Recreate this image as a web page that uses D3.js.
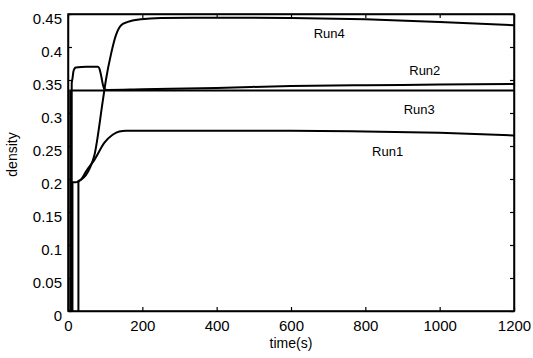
<!DOCTYPE html>
<html>
<head>
<meta charset="utf-8">
<script src="https://cdn.jsdelivr.net/npm/d3@7"></script>
<style>
  body { margin: 0; background: #fff; }
  text { font-family: Arial, "Liberation Sans", Helvetica, sans-serif; fill: #000; }
</style>
</head>
<body>
<div id="viz"></div>
<script>
// time (s) and density, one pair of arrays per run
const run1T = [12, 12, 20, 28, 35, 48, 71, 98, 120, 138, 156, 180, 300, 600, 800, 1000, 1200];
const run1D = [0, 0.195, 0.195, 0.196, 0.199, 0.211, 0.229, 0.255, 0.267, 0.272, 0.273, 0.273, 0.273, 0.273, 0.272, 0.270, 0.266];

const run2T = [10, 10, 12, 15, 21, 50, 80, 84, 87, 98, 105, 200, 400, 600, 800, 1000, 1200];
const run2D = [0, 0.345, 0.352, 0.364, 0.369, 0.370, 0.370, 0.368, 0.362, 0.336, 0.335, 0.336, 0.338, 0.341, 0.342, 0.343, 0.344];

const run3T = [6, 6, 300, 600, 900, 1200];
const run3D = [0, 0.334, 0.334, 0.334, 0.334, 0.334];

const run4T = [28, 28, 35, 48, 60, 71, 94, 102, 116, 129, 143, 161, 196, 250, 400, 600, 800, 1000, 1200];
const run4D = [0, 0.197, 0.199, 0.206, 0.218, 0.236, 0.320, 0.350, 0.390, 0.418, 0.433, 0.438, 0.442, 0.444, 0.4445, 0.444, 0.442, 0.438, 0.433];

const runNames = ['Run1', 'Run2', 'Run3', 'Run4'];
// label anchor points (time, density) for the run names
const labelT = [860, 960, 945, 703];
const labelD = [0.241, 0.364, 0.306, 0.420];

const xTicks = [0, 200, 400, 600, 800, 1000, 1200];
const yTicks = [0, 0.05, 0.1, 0.15, 0.2, 0.25, 0.3, 0.35, 0.4, 0.45];

const width = 533, height = 358;
const margin = {left: 68, right: 19, top: 14, bottom: 47};
const w = width - margin.left - margin.right;
const h = height - margin.top - margin.bottom;

const svg = d3.select('#viz').append('svg')
  .attr('width', width)
  .attr('height', height)
  .append('g')
  .attr('transform', `translate(${margin.left},${margin.top})`);

const x = d3.scaleLinear().domain([0, 1200]).range([0, w]);
const y = d3.scaleLinear().domain([0, 0.45]).range([h, 0]);

// matlab style inward ticks on all four sides
const tickLen = 4;
svg.append('g').attr('transform', `translate(0,${h})`)
  .call(d3.axisBottom(x).tickValues(xTicks).tickSizeInner(-tickLen).tickSizeOuter(0).tickPadding(9).tickFormat(d3.format('d')));
svg.append('g')
  .call(d3.axisTop(x).tickValues(xTicks).tickSizeInner(-tickLen).tickSizeOuter(0).tickFormat(''));
const yAxisG = svg.append('g')
  .call(d3.axisLeft(y).tickValues(yTicks).tickSizeInner(-tickLen).tickSizeOuter(0).tickPadding(6).tickFormat(d => d === 0 ? '0' : d3.format('.2~f')(d)));
svg.append('g').attr('transform', `translate(${w},0)`)
  .call(d3.axisRight(y).tickValues(yTicks).tickSizeInner(-tickLen).tickSizeOuter(0).tickFormat(''));

svg.selectAll('.domain').style('stroke', '#000').style('stroke-width', 1.5);
svg.selectAll('.tick line').style('stroke', '#000').style('stroke-width', 1.2);
svg.selectAll('.tick text').style('font-size', '15px').style('fill', '#000');
// y tick labels sit a touch below their ticks in the original
yAxisG.selectAll('.tick text').attr('dy', '0.7em').attr('y', -1);

// full box
svg.append('rect')
  .attr('width', w).attr('height', h)
  .style('fill', 'none').style('stroke', '#000').style('stroke-width', 1.5);

const line = d3.line()
  .x(d => x(d[0]))
  .y(d => y(d[1]))
  .curve(d3.curveMonotoneX);

const runs = [
  d3.zip(run1T, run1D),
  d3.zip(run2T, run2D),
  d3.zip(run3T, run3D),
  d3.zip(run4T, run4D),
];

svg.append('g')
  .selectAll('path')
  .data(runs)
  .join('path')
  .attr('d', line)
  .style('fill', 'none')
  .style('stroke', '#000')
  .style('stroke-width', 2);

svg.append('g')
  .selectAll('text')
  .data(runNames)
  .join('text')
  .attr('x', (d, i) => x(labelT[i]))
  .attr('y', (d, i) => y(labelD[i]))
  .attr('text-anchor', 'middle')
  .attr('dy', '0.35em')
  .style('font-size', '13px')
  .text(d => d);

// axis titles
svg.append('text')
  .attr('x', w / 2)
  .attr('y', h + 37)
  .attr('text-anchor', 'middle')
  .style('font-size', '14px')
  .text('time(s)');

svg.append('text')
  .attr('transform', `translate(${-51},${h / 2 - 8}) rotate(-90)`)
  .attr('text-anchor', 'middle')
  .style('font-size', '14px')
  .text('density');
</script>
</body>
</html>
